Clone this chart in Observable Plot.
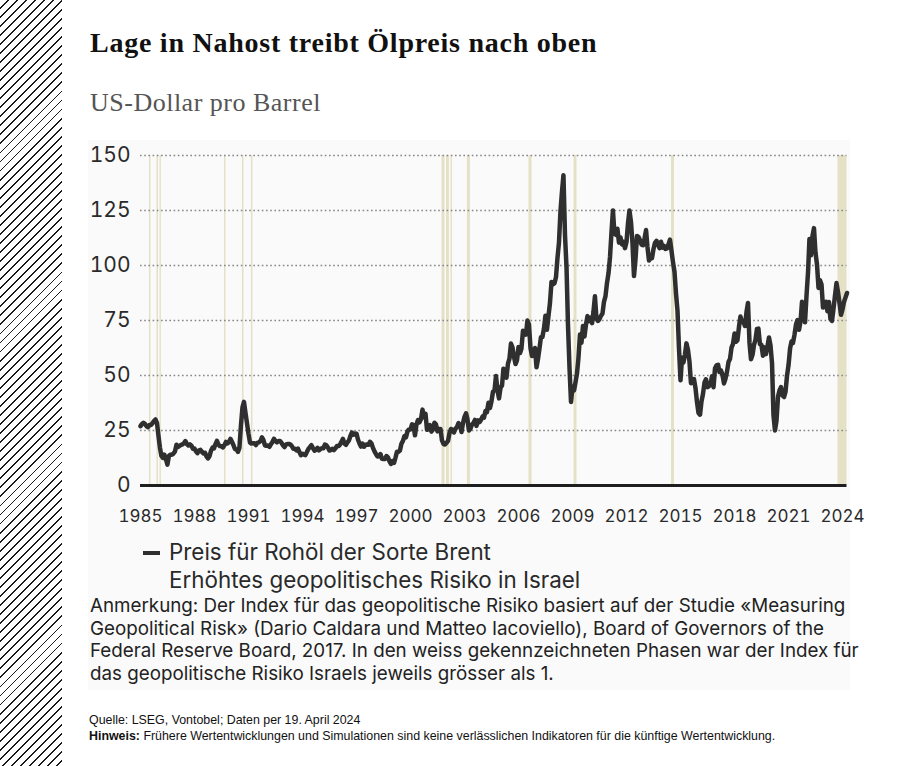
<!DOCTYPE html>
<html>
<head>
<meta charset="utf-8">
<script src="https://cdn.jsdelivr.net/npm/d3@7"></script>
<script src="https://cdn.jsdelivr.net/npm/@observablehq/plot@0.6"></script>
<style>
  body { margin: 0; background: #fff; width: 899px; height: 766px; position: relative; overflow: hidden;
         font-family: Inter, "Liberation Sans", Arial, sans-serif; }
  #hatch { position: absolute; left: 0; top: 0; width: 62px; height: 766px;
           background: repeating-linear-gradient(135deg, #fff 0 5.1px, #1a1a1a 5.1px 6.4px); }
  #panel { position: absolute; left: 88px; top: 140px; width: 762px; height: 550px; background: #fafafa; }
  #title { position: absolute; left: 90px; top: 27px; font-family: "Liberation Serif", serif; font-weight: bold;
           font-size: 28px; letter-spacing: 0.75px; color: #111; white-space: nowrap; }
  #subtitle { position: absolute; left: 90px; top: 88px; font-family: "Liberation Serif", serif;
              font-size: 26px; letter-spacing: 0.5px; color: #555; white-space: nowrap; }
  #chart { position: absolute; left: 0; top: 140px; }
  #legend { position: absolute; left: 143px; top: 538px; font-size: 22.4px; color: #2a2a2a; line-height: 28px; white-space: nowrap; }
  #legend .key { display: inline-block; width: 17px; height: 4px; background: #2f2f2f; vertical-align: middle;
                 margin-right: 9px; position: relative; top: -1px; }
  #legend .pad { display: inline-block; width: 26px; }
  #note { position: absolute; left: 90px; top: 595px; font-size: 18.8px; line-height: 22.7px; color: #222; white-space: nowrap; }
  #source { position: absolute; left: 89px; top: 712px; font-family: "Liberation Sans", Arial, sans-serif;
            font-size: 12.4px; line-height: 16px; color: #111; }
</style>
</head>
<body>
<div id="hatch"></div>
<div id="panel"></div>
<div id="title">Lage in Nahost treibt Ölpreis nach oben</div>
<div id="subtitle">US-Dollar pro Barrel</div>
<div id="chart"></div>
<div id="legend">
  <div><span class="key"></span>Preis für Rohöl der Sorte Brent</div>
  <div><span class="pad"></span>Erhöhtes geopolitisches Risiko in Israel</div>
</div>
<div id="note">Anmerkung: Der Index für das geopolitische Risiko basiert auf der Studie «Measuring<br>Geopolitical Risk» (Dario Caldara und Matteo Iacoviello), Board of Governors of the<br>Federal Reserve Board, 2017. In den weiss gekennzeichneten Phasen war der Index für<br>das geopolitische Risiko Israels jeweils grösser als 1.</div>
<div id="source">Quelle: LSEG, Vontobel; Daten per 19. April 2024<br><b>Hinweis:</b> Frühere Wertentwicklungen und Simulationen sind keine verlässlichen Indikatoren für die künftige Wertentwicklung.</div>

<script>
// Brent crude, monthly values in USD per barrel, January 1985 to April 2024
const brent1985_1994 = [
  27.0, 28.0, 28.5, 28.0, 27.0, 26.5, 27.5, 27.5, 28.3, 29.3, 30.0, 28.5,
  22.5, 17.0, 13.5, 12.5, 14.0, 12.0, 9.5, 13.5, 14.0, 14.0, 14.5, 15.5,
  18.5, 17.5, 18.0, 18.4, 18.7, 19.2, 20.2, 18.8, 18.2, 18.7, 18.1, 16.7,
  16.8, 15.5, 14.7, 16.0, 16.2, 15.3, 14.6, 14.9, 13.2, 12.3, 13.3, 15.8,
  17.2, 16.9, 18.7, 20.3, 18.6, 17.9, 17.8, 17.3, 18.4, 19.8, 19.1, 19.9,
  21.2, 19.8, 18.4, 16.6, 16.4, 15.3, 17.1, 27.2, 35.5, 38.0, 33.0, 28.4,
  23.6, 19.5, 19.1, 19.2, 19.2, 18.4, 19.4, 19.6, 20.2, 21.9, 20.6, 18.2,
  18.1, 18.2, 17.6, 18.8, 19.8, 21.2, 20.2, 19.6, 20.2, 20.2, 19.4, 18.3,
  17.5, 18.6, 18.9, 18.9, 18.6, 17.8, 16.7, 16.7, 16.0, 16.8, 15.1, 13.8,
  14.4, 14.0, 13.8, 15.3, 16.6, 17.5, 18.3, 17.0, 15.8, 16.2, 17.1, 16.0
];
const brent1995_2004 = [
  16.6, 17.0, 16.9, 18.6, 18.3, 17.3, 15.9, 16.1, 16.7, 16.1, 16.9, 17.9,
  17.9, 18.6, 19.9, 21.2, 19.1, 18.5, 19.6, 20.5, 22.6, 24.1, 23.1, 23.6,
  23.5, 20.8, 19.2, 17.7, 19.1, 17.6, 18.5, 18.6, 18.5, 19.9, 19.1, 17.1,
  15.5, 14.3, 13.2, 13.3, 14.3, 12.1, 12.0, 12.0, 13.4, 12.8, 11.0, 9.8,
  11.1, 10.3, 12.5, 15.3, 15.3, 15.9, 19.0, 20.3, 22.5, 21.9, 24.6, 25.5,
  25.5, 27.8, 27.5, 22.8, 27.6, 29.8, 28.7, 30.2, 34.5, 31.0, 32.6, 25.3,
  25.6, 27.5, 24.5, 25.6, 28.5, 27.8, 24.6, 25.7, 25.7, 20.5, 18.9, 18.6,
  19.4, 20.3, 23.7, 25.7, 25.4, 24.1, 25.7, 26.6, 28.4, 27.5, 24.3, 28.3,
  31.2, 32.8, 30.3, 25.0, 25.8, 27.6, 28.4, 29.8, 27.1, 29.6, 28.8, 29.8,
  31.3, 30.9, 33.8, 33.4, 37.6, 35.2, 38.2, 42.7, 43.2, 49.8, 43.1, 39.6
];
const brent2005_2014 = [
  44.5, 45.5, 53.1, 51.9, 49.0, 55.4, 57.6, 64.5, 62.7, 58.5, 55.2, 56.9,
  62.9, 60.2, 62.1, 70.3, 69.8, 68.6, 75.0, 73.2, 62.5, 58.9, 59.1, 62.5,
  53.7, 57.6, 62.1, 67.4, 67.5, 71.3, 77.2, 70.8, 77.1, 82.9, 92.5, 91.5,
  91.9, 94.8, 103.3, 110.4, 124.6, 133.5, 141.0, 113.9, 99.1, 72.8, 53.2, 38.0,
  44.9, 43.2, 46.8, 50.8, 57.9, 68.6, 64.9, 72.5, 67.7, 73.2, 77.0, 74.7,
  76.2, 73.8, 78.8, 86.0, 75.9, 74.8, 75.6, 77.1, 78.2, 83.5, 86.1, 92.0,
  96.5, 104.0, 114.6, 125.0, 114.5, 113.9, 116.7, 110.4, 112.8, 109.6, 110.8, 107.9,
  110.7, 119.3, 125.0, 119.8, 110.3, 95.2, 102.6, 113.4, 113.0, 111.5, 109.5, 109.2,
  112.3, 116.1, 108.5, 102.3, 103.3, 103.3, 107.4, 110.3, 111.2, 109.5, 107.9, 110.8,
  108.1, 108.9, 107.5, 107.8, 109.5, 111.8, 106.8, 101.6, 97.1, 87.4, 79.4, 62.3
];
const brent2015_2024 = [
  47.8, 58.1, 55.9, 59.5, 64.6, 61.7, 56.5, 46.5, 47.6, 48.4, 44.3, 38.0,
  33.0, 32.2, 38.2, 41.6, 46.7, 48.3, 44.7, 45.2, 46.1, 49.7, 44.7, 53.3,
  54.6, 54.9, 51.6, 52.3, 50.3, 46.4, 48.5, 51.7, 56.2, 57.5, 62.7, 64.4,
  69.1, 65.3, 66.0, 72.1, 76.8, 74.4, 74.3, 72.5, 78.9, 83.0, 64.8, 57.4,
  59.4, 64.0, 66.1, 71.2, 71.3, 64.2, 63.9, 59.0, 62.8, 59.7, 63.2, 67.3,
  63.7, 55.5, 32.0, 25.0, 29.4, 40.3, 43.2, 44.7, 40.9, 40.2, 42.7, 49.9,
  54.8, 62.3, 65.4, 64.8, 68.5, 73.2, 75.2, 70.8, 74.5, 83.5, 81.1, 74.2,
  86.5, 97.1, 112.0, 104.6, 113.3, 117.0, 106.0, 100.5, 89.8, 93.3, 91.4, 80.9,
  83.1, 83.5, 79.2, 83.4, 75.7, 74.8, 80.1, 86.2, 92.0, 88.0, 82.9, 77.6,
  80.1, 83.5, 85.4, 87.5
];

// Phases with elevated geopolitical risk in Israel (index > 1)
const riskStart = ["1985-07-01", "1985-12-01", "1986-02-01", "1989-09-01", "1990-09-01", "1991-03-01",
                   "2001-10-01", "2002-01-01", "2002-04-01", "2003-03-01", "2006-08-01", "2009-02-01",
                   "2014-07-01", "2023-10-01"];
const riskEnd   = ["1985-08-01", "1986-01-01", "1986-03-01", "1989-10-01", "1990-10-01", "1991-04-01",
                   "2001-12-01", "2002-03-01", "2002-05-01", "2003-05-01", "2006-10-01", "2009-04-01",
                   "2014-09-01", "2024-04-01"];

const yTicks = [0, 25, 50, 75, 100, 125, 150];
const xTickYears = [1985, 1988, 1991, 1994, 1997, 2000, 2003, 2006, 2009, 2012, 2015, 2018, 2021, 2024];

const monthly = [...brent1985_1994, ...brent1995_2004, ...brent2005_2014, ...brent2015_2024];
const brent = monthly.map((price, i) => ({date: new Date(Date.UTC(1985, i, 1)), price}));
const risk = riskStart.map((s, i) => ({start: new Date(s), end: new Date(riskEnd[i])}));
const xTicks = xTickYears.map(y => new Date(Date.UTC(y, 0, 1)));

const chart = Plot.plot({
  width: 899,
  height: 395,
  marginTop: 15,
  marginBottom: 50,
  marginLeft: 140,
  marginRight: 52.5,
  style: {fontFamily: "Inter, 'Liberation Sans', Arial, sans-serif", color: "#2a2a2a", background: "transparent", overflow: "visible"},
  x: {type: "utc", domain: [new Date(Date.UTC(1985, 0, 1)), new Date(Date.UTC(2024, 3, 1))]},
  y: {domain: [0, 150]},
  marks: [
    Plot.rectX(risk, {x1: "start", x2: "end", fill: "#e5e1c6"}),
    Plot.ruleY(yTicks.filter(d => d > 0), {stroke: "#868686", strokeWidth: 1.6, strokeDasharray: "1.6,2.6"}),
    Plot.line(brent, {x: "date", y: "price", stroke: "#2f2f2f", strokeWidth: 4.5, strokeLinejoin: "round", strokeLinecap: "round"}),
    Plot.ruleY([0], {stroke: "#1e1e1e", strokeWidth: 3}),
    Plot.axisY(yTicks, {tickSize: 0, tickPadding: 10, fontSize: 21, label: null}),
    Plot.axisX(xTicks, {tickSize: 0, tickPadding: 24, fontSize: 17, label: null, tickFormat: d => String(d.getUTCFullYear())})
  ]
});
document.getElementById("chart").appendChild(chart);
</script>
</body>
</html>
